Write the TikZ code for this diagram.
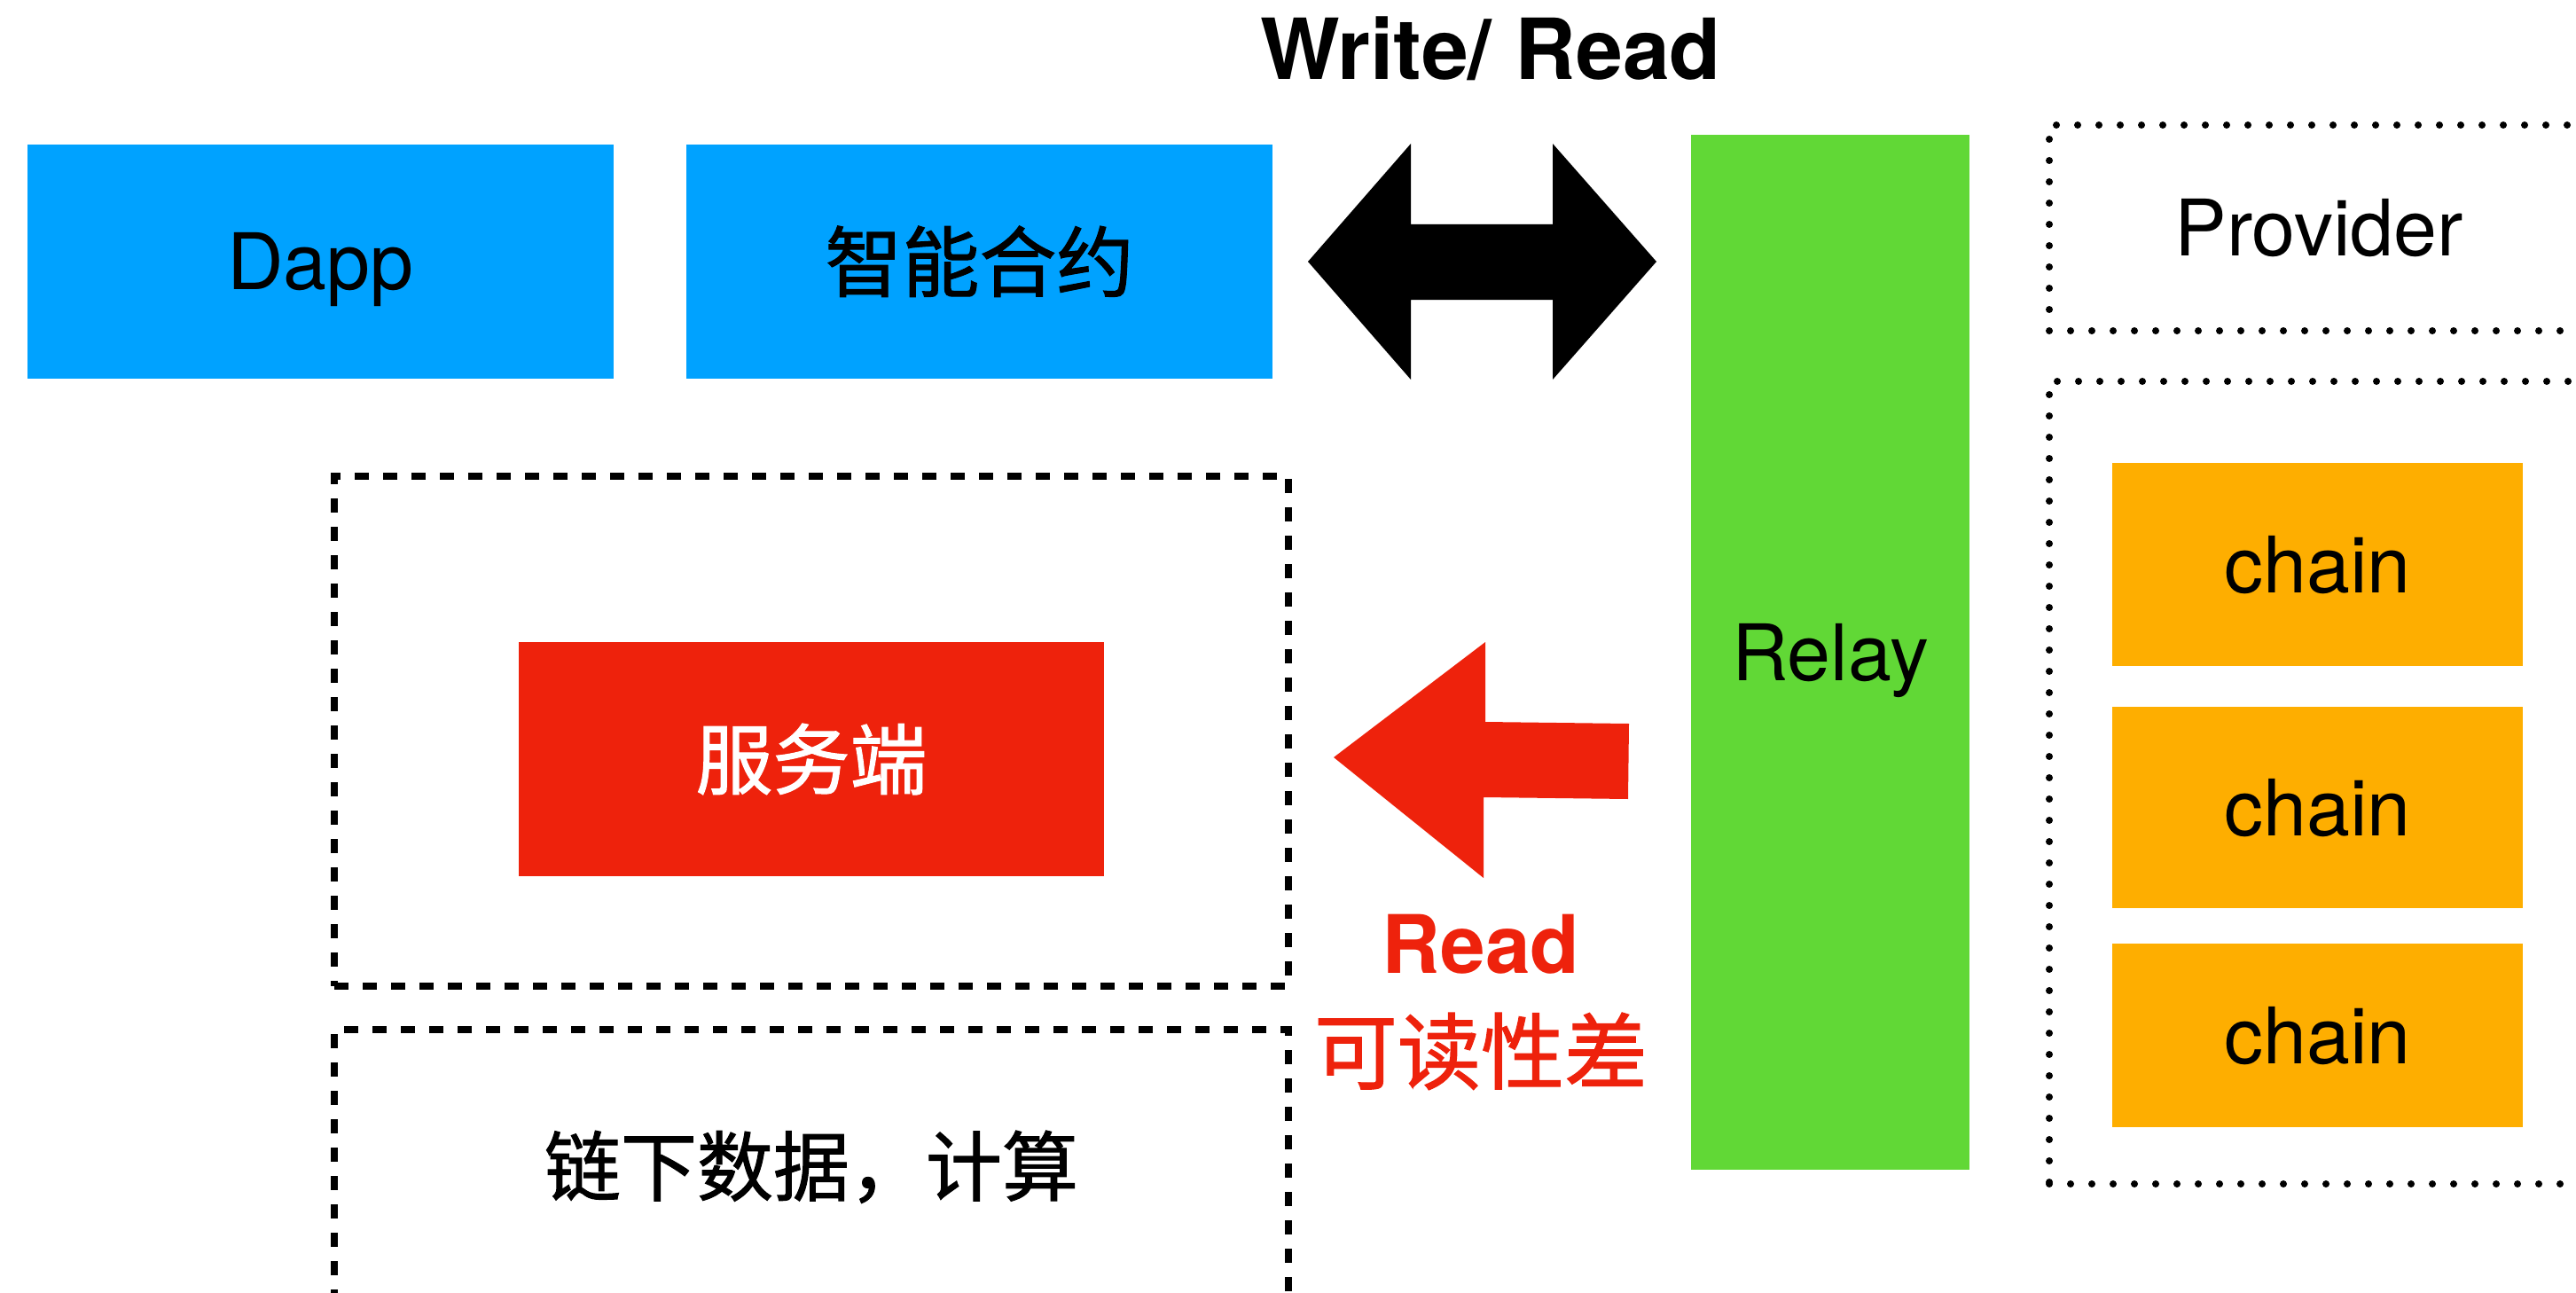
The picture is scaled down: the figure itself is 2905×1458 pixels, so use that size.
\documentclass[tikz,border=0pt]{standalone}
\usepackage{fontspec}
\setmainfont{TeX Gyre Heros}
\newfontfamily\cjk{Noto Sans CJK SC}[FakeBold=1.2]
\definecolor{kblue}{RGB}{0,162,255}
\definecolor{kgreen}{RGB}{97,216,54}
\definecolor{kred}{RGB}{238,34,12}
\definecolor{korange}{RGB}{254,174,0}
\begin{document}
\begin{tikzpicture}[x=1pt,y=-1pt,
  box/.style={rectangle, inner sep=0pt, outer sep=0pt},
  lat/.style={font=\fontsize{88}{100}\selectfont, text height=63pt, text depth=0pt},
  cjkt/.style={font=\cjk\fontsize{87}{100}\selectfont, text height=72pt, text depth=6pt},
  dashbox/.style={box, draw=black, line width=8pt, dash pattern=on 16pt off 16pt},
  dotbox/.style={box, draw=black, line width=8pt, line cap=round, dash pattern=on 0pt off 24pt},
]
\useasboundingbox (0,0) rectangle (2905,1458);
\clip (0,0) rectangle (2905,1458);

% title
\node[anchor=base, font=\bfseries\fontsize{95}{100}\selectfont, inner sep=0pt] (title) at (1681,90) {Write/ Read};

% top boxes
\node[box, fill=kblue, minimum width=661pt, minimum height=264pt, lat] (dapp) at (361.5,295) {Dapp};
\node[box, fill=kblue, minimum width=661pt, minimum height=264pt, cjkt] (contract) at (1104.5,295) {智能合约};

% double arrow
\fill[black] (1475,295) -- (1591,162) -- (1591,253) -- (1751,253) -- (1751,162) -- (1868,295)
  -- (1751,428) -- (1751,338) -- (1591,338) -- (1591,428) -- cycle;

% relay
\node[box, fill=kgreen, minimum width=314pt, minimum height=1167pt, lat] (relay) at (2064,735.5) {Relay};

% provider
\node[dotbox, minimum width=608pt, minimum height=232pt, lat] (provider) at (2615,257) {Provider};
\node[dotbox, minimum width=608pt, minimum height=905pt] (chains) at (2615,882.5) {};
\node[box, fill=korange, minimum width=463pt, minimum height=229pt, lat] (chain1) at (2613.5,636.5) {chain};
\node[box, fill=korange, minimum width=463pt, minimum height=227pt, lat] (chain2) at (2613.5,910.5) {chain};
\node[box, fill=korange, minimum width=463pt, minimum height=207pt, lat] (chain3) at (2613.5,1167.5) {chain};

% server
\node[dashbox, minimum width=1076pt, minimum height=575pt] (serverarea) at (915,824.5) {};
\node[box, fill=kred, text=white, minimum width=660pt, minimum height=264pt, cjkt] (server) at (915,856) {服务端};

% offchain
\node[dashbox, minimum width=1076pt, minimum height=307pt, cjkt, font=\cjk\fontsize{86}{100}\selectfont] (offchain) at (915,1314.5) {链下数据，计算};

% red arrow
\fill[kred] (1504,854) -- (1675,724) -- (1675,814) -- (1837,816) -- (1836,901) -- (1673,899) -- (1673,990) -- cycle;
\node[anchor=base, text=kred, font=\bfseries\fontsize{91}{100}\selectfont, inner sep=0pt] (readlbl) at (1670,1097) {Read};
\node[anchor=base, text=kred, font=\cjk\fontsize{94}{100}\selectfont, inner sep=0pt] (poorlbl) at (1670,1221) {可读性差};
\end{tikzpicture}
\end{document}
